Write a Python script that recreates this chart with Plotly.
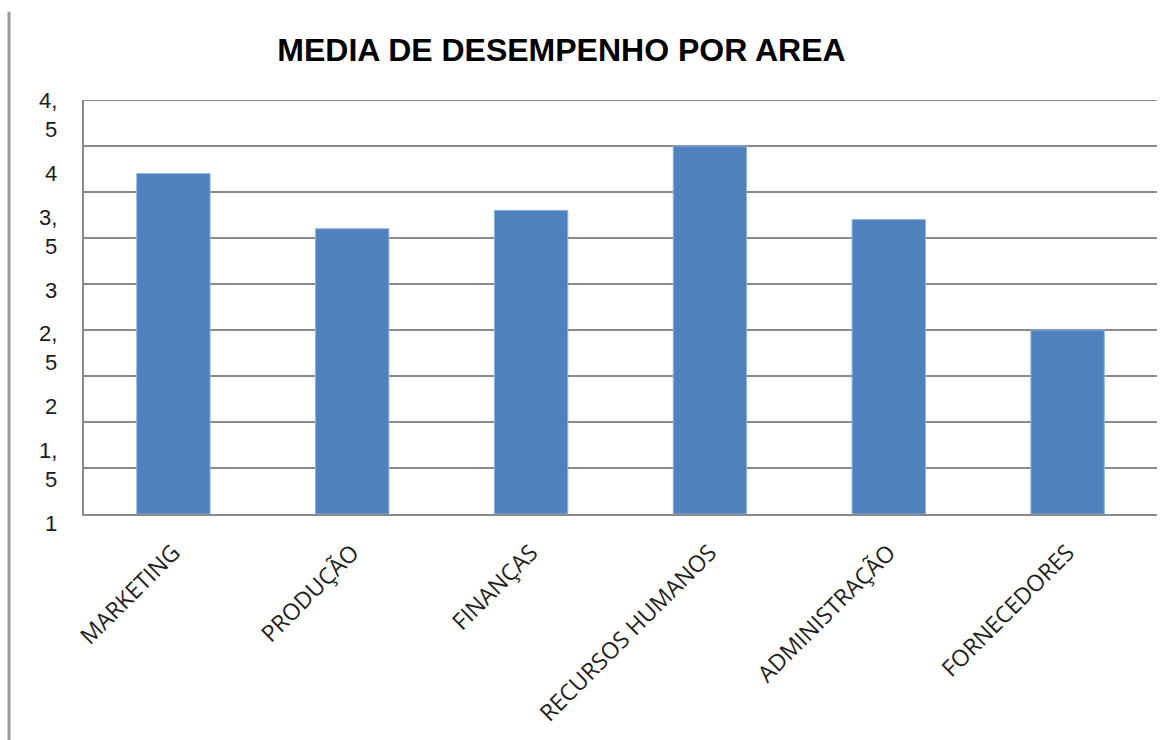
import plotly.graph_objects as go

# Data
categories = ["MARKETING", "PRODUÇÃO", "FINANÇAS", "RECURSOS HUMANOS", "ADMINISTRAÇÃO", "FORNECEDORES"]
values = [3.7, 3.1, 3.3, 4.0, 3.2, 2.0]
tick_values = [4.5, 4.0, 3.5, 3.0, 2.5, 2.0, 1.5, 1.0]
tick_labels = ["4,<br>5", "4", "3,<br>5", "3", "2,<br>5", "2", "1,<br>5", "1"]
title_text = "MEDIA DE DESEMPENHO POR AREA"

W, H = 1176, 740
ML, MR, MT, MB = 84, 19, 100, 223
Y_MAX = 4.5

fig = go.Figure()
fig.add_trace(go.Bar(
    x=categories, y=values,
    marker=dict(color="#4F81BD", line=dict(color="#8EB0DB", width=1)),
    hoverinfo="x+y",
))

# Value-axis labels (as drawn in the original: stretched spacing, wrapped)
label_step = 1.266   # spacing factor of the labels relative to the grid
label_offset = 0.168
annotations = []
for v, t in zip(tick_values, tick_labels):
    y_val = Y_MAX - label_offset - (Y_MAX - v) * label_step
    annotations.append(dict(
        x=-0.0235, xref="paper", xanchor="right",
        y=y_val / Y_MAX, yref="paper", yanchor="middle",
        text=t, showarrow=False, align="right",
        font=dict(family="Liberation Sans, Arial", size=22, color="#1a1a1a"),
    ))

fig.update_layout(
    width=W, height=H,
    margin=dict(l=ML, r=MR, t=MT, b=MB),
    paper_bgcolor="white", plot_bgcolor="white",
    showlegend=False,
    bargap=0.59,
    title=dict(
        text="<b>" + title_text + "</b>",
        x=561.5 / W, xref="container", xanchor="center",
        y=1 - 50 / H, yref="container", yanchor="middle",
        font=dict(family="Liberation Sans, Arial", size=32, color="black"),
    ),
    annotations=annotations,
    shapes=[
        dict(
            type="line", xref="paper", yref="paper",
            x0=(9 - ML) / (W - ML - MR), x1=(9 - ML) / (W - ML - MR),
            y0=(H - MB - 11) / (H - MT - MB), y1=(H - MB - 745) / (H - MT - MB),
            line=dict(color="#9a9a9a", width=3),
        ),
        dict(
            type="line", xref="paper", yref="y",
            x0=0, x1=1, y0=Y_MAX, y1=Y_MAX,
            line=dict(color="#8a8a8a", width=2),
        ),
    ],
)

fig.update_yaxes(
    range=[0, Y_MAX], dtick=0.5, tick0=0,
    showgrid=True, gridcolor="#8a8a8a", gridwidth=2,
    zeroline=False, showline=True, linecolor="#8a8a8a", linewidth=2,
    showticklabels=False, ticks="",
)
fig.update_xaxes(
    showline=True, linecolor="#8a8a8a", linewidth=2,
    tickangle=-45, ticks="", ticklabelstandoff=14,
    tickfont=dict(family="Open Sans", size=23, color="#1f1f1f"),
)

fig.write_html("out.html")
